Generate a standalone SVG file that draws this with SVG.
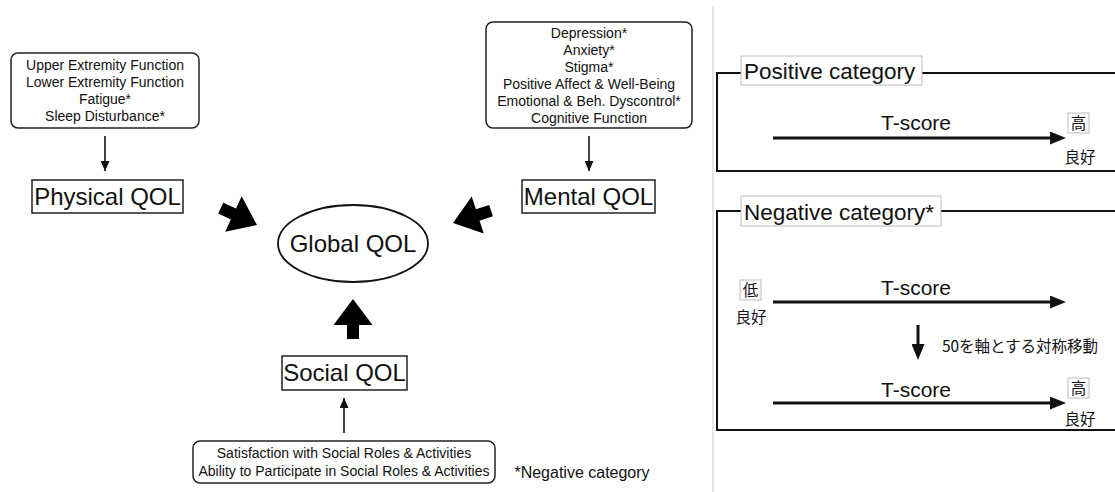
<svg xmlns="http://www.w3.org/2000/svg" width="1115" height="492" viewBox="0 0 1115 492">
<defs>
<style>
text{font-family:"Liberation Sans",Arial,sans-serif;fill:#111;text-anchor:middle}
.sm{font-size:14px}
.qol{font-size:24px}
.rb{fill:#fff;stroke:#222;stroke-width:1.5}
.lab{font-size:22.5px;text-anchor:start}
.ts{font-size:21px}
.jp{font-family:"Noto Sans CJK JP","Liberation Sans",sans-serif;font-size:15.5px}
.lb{fill:#fff;stroke:#bbb;stroke-width:1}
.frame{fill:none;stroke:#111;stroke-width:2}
.thin{stroke:#111;stroke-width:1.6;fill:none}
.thick{stroke:#111;stroke-width:3;fill:none}
.big{fill:#000}
</style>
<marker id="ah" markerUnits="userSpaceOnUse" markerWidth="10" markerHeight="9" refX="10" refY="4.5" orient="auto"><path d="M0,0 L10,4.5 L0,9 z" fill="#111"/></marker>
<marker id="ahb" markerUnits="userSpaceOnUse" markerWidth="16" markerHeight="13" refX="6" refY="6.5" orient="auto"><path d="M0,0 L16,6.5 L0,13 z" fill="#111"/></marker>
<polygon id="blk" points="0,0 -26,-19.5 -26,-6 -40,-6 -40,6 -26,6 -26,19.5"/>
</defs>
<rect width="1115" height="492" fill="#fff"/>
<line x1="713" y1="6" x2="713" y2="492" stroke="#ddd" stroke-width="1.5"/>

<g id="physical-items">
<rect class="rb" x="11" y="53" width="188" height="75" rx="7"/>
<text class="sm" x="105" y="70">Upper Extremity Function</text>
<text class="sm" x="105" y="87">Lower Extremity Function</text>
<text class="sm" x="105" y="104">Fatigue*</text>
<text class="sm" x="105" y="121">Sleep Disturbance*</text>
</g>
<g id="physical-qol">
<rect class="rb" x="32" y="180" width="151" height="33"/>
<text class="qol" x="107.5" y="205">Physical QOL</text>
</g>
<g id="mental-items">
<rect class="rb" x="486" y="22" width="206" height="106" rx="7"/>
<text class="sm" x="589" y="38">Depression*</text>
<text class="sm" x="589" y="55">Anxiety*</text>
<text class="sm" x="589" y="72">Stigma*</text>
<text class="sm" x="589" y="89">Positive Affect &amp; Well-Being</text>
<text class="sm" x="589" y="106">Emotional &amp; Beh. Dyscontrol*</text>
<text class="sm" x="589" y="123">Cognitive Function</text>
</g>
<g id="mental-qol">
<rect class="rb" x="522" y="180" width="133" height="33"/>
<text class="qol" x="588.5" y="205">Mental QOL</text>
</g>
<g id="global-qol">
<ellipse cx="353" cy="243.5" rx="75" ry="38.5" fill="#fff" stroke="#111" stroke-width="1.8"/>
<text class="qol" x="353" y="252">Global QOL</text>
</g>
<g id="social-qol">
<rect class="rb" x="282" y="356" width="125" height="34"/>
<text class="qol" x="344.5" y="381">Social QOL</text>
</g>
<g id="social-items">
<rect class="rb" x="193" y="441" width="302" height="42" rx="7"/>
<text class="sm" x="344" y="458">Satisfaction with Social Roles &amp; Activities</text>
<text class="sm" x="344" y="476">Ability to Participate in Social Roles &amp; Activities</text>
</g>
<g id="note">
<text x="582" y="478" style="font-size:16px">*Negative category</text>
</g>

<g id="connectors">
<line class="thin" x1="105" y1="136" x2="105" y2="171" marker-end="url(#ah)"/>
<line class="thin" x1="589" y1="136" x2="589" y2="171" marker-end="url(#ah)"/>
<line class="thin" x1="344" y1="433" x2="344" y2="398" marker-end="url(#ah)"/>
<use href="#blk" class="big" transform="translate(257,225) rotate(25)"/>
<use href="#blk" class="big" transform="translate(453,223) rotate(162)"/>
<use href="#blk" class="big" transform="translate(353,299) rotate(-90)"/>
</g>

<g id="positive-panel">
<path class="frame" d="M1116,73 H717 V171 H1116"/>
<rect class="lb" x="741" y="56" width="181" height="29"/>
<text class="lab" x="744" y="79">Positive category</text>
<text class="ts" x="916" y="130">T-score</text>
<line class="thick" x1="773" y1="138" x2="1056" y2="138" marker-end="url(#ahb)"/>
<rect class="lb" x="1068" y="113" width="21" height="20"/>
<text class="jp" x="1078.5" y="129">高</text>
<text class="jp" x="1080" y="163">良好</text>
</g>

<g id="negative-panel">
<path class="frame" d="M1116,211 H717 V430 H1116"/>
<rect class="lb" x="741" y="196" width="200" height="30"/>
<text class="lab" x="744" y="220">Negative category*</text>
<rect class="lb" x="740" y="280" width="21" height="20"/>
<text class="jp" x="750.5" y="296">低</text>
<text class="jp" x="751" y="323">良好</text>
<text class="ts" x="916" y="295">T-score</text>
<line class="thick" x1="773" y1="302" x2="1056" y2="302" marker-end="url(#ahb)"/>
<line class="thick" x1="918" y1="325" x2="918" y2="350" marker-end="url(#ahb)"/>
<text class="jp" x="1020" y="352">50を軸とする対称移動</text>
<text class="ts" x="916" y="397">T-score</text>
<line class="thick" x1="773" y1="403" x2="1056" y2="403" marker-end="url(#ahb)"/>
<rect class="lb" x="1068" y="378" width="21" height="20"/>
<text class="jp" x="1078.5" y="394">高</text>
<text class="jp" x="1080" y="425">良好</text>
</g>
</svg>
